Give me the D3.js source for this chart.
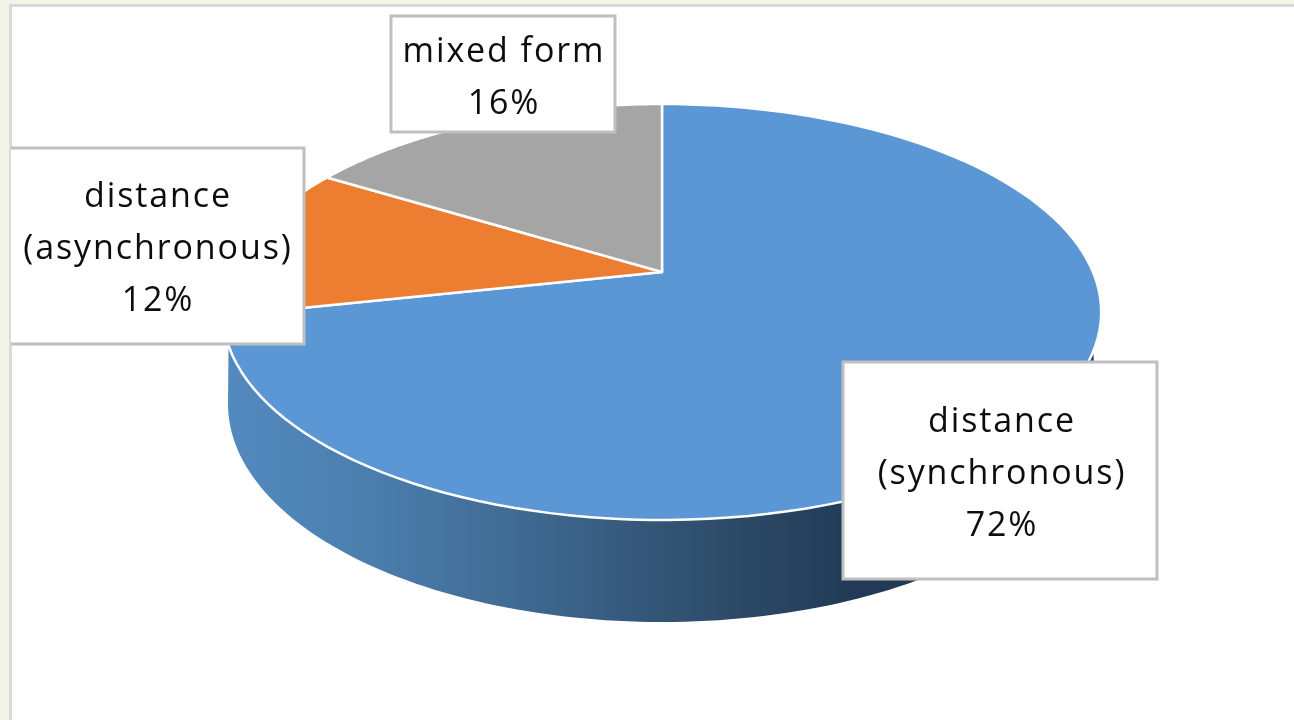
<!DOCTYPE html>
<html>
<head>
<meta charset="utf-8">
<script src="https://cdn.jsdelivr.net/npm/d3@7"></script>
<style>
html,body{margin:0;padding:0;background:#fff;overflow:hidden}
svg{display:block}
text{font-family:"Open Sans",sans-serif;fill:#111;letter-spacing:1.9px}
</style>
</head>
<body>
<svg id="c" width="1294" height="720"></svg>
<script>
const categories = ["distance (synchronous)", "distance (asynchronous)", "mixed form"];
const labelLines = [["distance", "(synchronous)", "72%"], ["distance", "(asynchronous)", "12%"], ["mixed form", "16%"]];
const values = [72, 12, 16];
const colors = ["#5b97d5", "#ed7d31", "#a5a5a5"];

(function () {
const W = 1294, H = 720;
const svg = d3.select("#c");
const defs = svg.append("defs");
const grad = defs.append("linearGradient").attr("id", "side")
  .attr("gradientUnits", "userSpaceOnUse").attr("x1", 225).attr("x2", 850).attr("y1", 0).attr("y2", 0);
[[0, "#548ac0"], [0.25, "#4a7dab"], [0.5, "#3e678f"], [0.75, "#30506f"], [1, "#213b56"]].forEach(s =>
  grad.append("stop").attr("offset", s[0]).attr("stop-color", s[1]));
defs.append("filter").attr("id", "soft").attr("x", "-5%").attr("y", "-20%").attr("width", "110%").attr("height", "140%")
  .append("feGaussianBlur").attr("stdDeviation", 0.5);

// page frame
svg.append("rect").attr("width", W).attr("height", H).attr("fill", "#f4f4e8");
svg.append("rect").attr("x", 9).attr("y", 4).attr("width", W).attr("height", H).attr("fill", "#d9d9d9");
svg.append("rect").attr("x", 12).attr("y", 7).attr("width", W).attr("height", H).attr("fill", "#fff");

// tilted-disc projection of the pie: apex, perspective and radii
const cx = 662, cy = 272, A = 200.3, B = 431, k = -0.1923;
const project = a => {
  const t = a > Math.PI ? a - 0.024 * Math.sin(a - Math.PI) : a;
  const u = Math.sin(t), v = -Math.cos(t), d = 1 + k * v;
  return [cx + B * u / d, cy + A * v / d];
};
const lower = {cy: 404, rx: 434, ry: 218};
const pie = d3.pie().sort(null).startAngle(0).endAngle(2 * Math.PI);
const arcs = pie(values);
const line = d3.line();
const sample = (a0, a1) => d3.range(0, 121).map(i => a0 + (a1 - a0) * i / 120);

// side wall
const upperRim = sample(Math.PI * 0.62, Math.PI * 1.5).map(project);
const lowerRim = sample(Math.PI * 0.5, Math.PI * 1.5)
  .map(a => [cx + lower.rx * Math.sin(a), lower.cy - lower.ry * Math.cos(a)]).reverse();
svg.append("path").attr("d", line(upperRim.concat(lowerRim)) + "Z").attr("fill", "url(#side)");

// slices
svg.append("g").selectAll("path").data(arcs).join("path")
  .attr("d", d => line([[cx, cy]].concat(sample(d.startAngle, d.endAngle).map(project))) + "Z")
  .attr("fill", (d, i) => colors[i])
  .attr("stroke", "#fff").attr("stroke-width", 2.5).attr("stroke-linejoin", "round");

// data labels
const boxes = [
  {x: 843, y: 362, w: 314, h: 217, cx: 1002, ty: 432},
  {x: 8, y: 148, w: 296, h: 196, cx: 158, ty: 207},
  {x: 391, y: 16, w: 224, h: 116, cx: 504, ty: 62}
];
const lh = 52;
const g = svg.append("g").selectAll("g").data(boxes).join("g");
g.append("rect").attr("x", d => d.x).attr("y", d => d.y).attr("width", d => d.w).attr("height", d => d.h)
  .attr("fill", "#fff").attr("stroke", "#bfbfbf").attr("stroke-width", 3);
g.each(function (d, i) {
  d3.select(this).selectAll("text").data(labelLines[i]).join("text")
    .attr("x", d.cx).attr("y", (t, j) => d.ty + j * lh)
    .attr("text-anchor", "middle").attr("font-size", 34)
    .attr("filter", "url(#soft)")
    .text(t => t);
});

// page frame's left edge stays above the clipped label box
svg.append("rect").attr("x", 0).attr("y", 0).attr("width", 9).attr("height", H).attr("fill", "#f4f4e8");
svg.append("rect").attr("x", 9).attr("y", 4).attr("width", 2).attr("height", H).attr("fill", "#d9d9d9");
})();
</script>
</body>
</html>
